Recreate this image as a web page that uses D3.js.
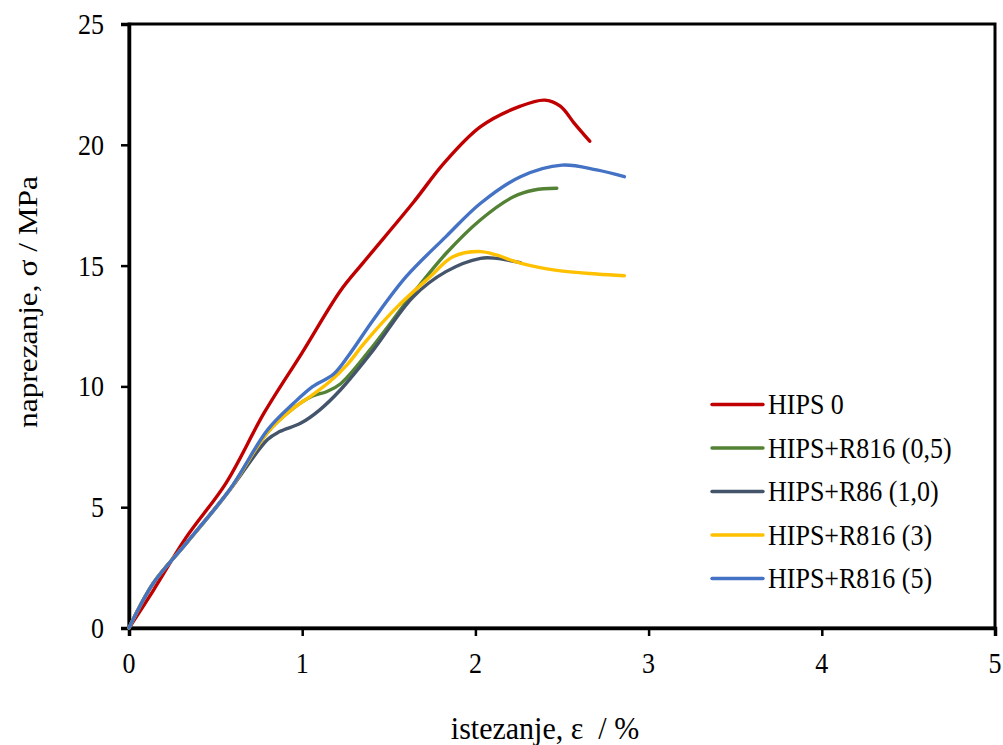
<!DOCTYPE html>
<html><head><meta charset="utf-8">
<script src="https://cdn.jsdelivr.net/npm/d3@7"></script>
<style>body{margin:0;background:#fff}svg{display:block}svg text{font-family:"Liberation Serif","Times New Roman",Tinos,"DejaVu Serif",serif;fill:#000}</style>
</head><body><svg id="c" width="1003" height="745"></svg>
<script>
const seriesNames = ["HIPS 0","HIPS+R816 (0,5)","HIPS+R86 (1,0)","HIPS+R816 (3)","HIPS+R816 (5)"];
const seriesColors = ["#C00000","#548235","#44546A","#FFC000","#4472C4"];
const hips0_x = [0,0.14,0.33,0.56,0.78,1.0,1.22,1.35,1.64,1.82,2.03,2.26,2.40,2.49,2.57,2.66];
const hips0_y = [0,1.55,3.75,6.0,8.9,11.4,13.95,15.1,17.6,19.25,20.75,21.6,21.85,21.6,20.9,20.15];
const r05_x = [0,0.14,0.33,0.58,0.8,0.95,1.06,1.14,1.22,1.39,1.64,1.83,2.03,2.22,2.34,2.47];
const r05_y = [0,1.85,3.5,5.7,8.1,9.1,9.6,9.78,10.1,11.5,13.85,15.5,16.9,17.85,18.13,18.2];
const r10_x = [0,0.14,0.33,0.58,0.8,0.87,0.99,1.1,1.22,1.41,1.64,1.83,2.03,2.12,2.26];
const r10_y = [0,1.85,3.5,5.7,7.8,8.13,8.47,9.02,9.85,11.5,13.7,14.75,15.3,15.3,15.12];
const r3_x = [0,0.14,0.33,0.58,0.8,0.95,1.05,1.16,1.26,1.36,1.55,1.74,1.87,2.03,2.12,2.26,2.47,2.7,2.86];
const r3_y = [0,1.85,3.5,5.7,8.1,9.1,9.6,10.2,10.9,11.8,13.3,14.55,15.37,15.58,15.44,15.1,14.8,14.65,14.58];
const r5_x = [0,0.14,0.33,0.58,0.8,0.95,1.06,1.18,1.27,1.41,1.6,1.83,2.03,2.26,2.5,2.7,2.86];
const r5_y = [0,1.85,3.5,5.71,8.2,9.3,9.99,10.5,11.3,12.75,14.54,16.2,17.58,18.68,19.16,18.96,18.68];
const xTicks = [0,1,2,3,4,5];
const yTicks = [0,5,10,15,20,25];

const allX = [hips0_x,r05_x,r10_x,r3_x,r5_x];
const allY = [hips0_y,r05_y,r10_y,r3_y,r5_y];
const SY = 1.12; // vertical stretch of the reference's text

const svg = d3.select("#c");
const L=129,R=995,T=24,B=628;
const x = d3.scaleLinear().domain([0,5]).range([L,R]);
const y = d3.scaleLinear().domain([0,25]).range([B,T]);

svg.append("rect").attr("x",L).attr("y",T).attr("width",R-L).attr("height",B-T)
  .attr("fill","none").attr("stroke","#000").attr("stroke-width",3);

const xAxis = svg.append("g").attr("transform",`translate(0,${B})`)
  .call(d3.axisBottom(x).tickValues(xTicks).tickFormat("").tickSize(8));
const yAxis = svg.append("g").attr("transform",`translate(${L},0)`)
  .call(d3.axisLeft(y).tickValues(yTicks).tickFormat("").tickSize(8));
[xAxis,yAxis].forEach(a=>{
  a.select(".domain").attr("stroke","#000").attr("stroke-width",3.5);
  a.selectAll(".tick line").attr("stroke","#000").attr("stroke-width",2.5);
});
// tick labels
svg.append("g").selectAll("text").data(xTicks).join("text")
  .attr("transform",d=>`translate(${x(d)},663) scale(1,${SY})`)
  .attr("text-anchor","middle").attr("dy","0.34em").style("font-size","26px").text(d=>d);
svg.append("g").selectAll("text").data(yTicks).join("text")
  .attr("transform",d=>`translate(104,${y(d)}) scale(1,${SY})`)
  .attr("text-anchor","end").attr("dy","0.34em").style("font-size","26px").text(d=>d);

const line = d3.line().curve(d3.curveCatmullRom.alpha(0.5)).x(d=>x(d[0])).y(d=>y(d[1]));
seriesNames.forEach((n,i)=>{
  const pts = allX[i].map((v,j)=>[v,allY[i][j]]);
  svg.append("path").datum(pts).attr("d",line).attr("fill","none")
    .attr("stroke",seriesColors[i]).attr("stroke-width",3.4).attr("stroke-linecap","round").attr("stroke-linejoin","round");
});

seriesNames.forEach((n,i)=>{
  const yy = 404.5 + i*43.5;
  svg.append("line").attr("x1",712).attr("x2",763).attr("y1",yy).attr("y2",yy)
    .attr("stroke",seriesColors[i]).attr("stroke-width",3.4).attr("stroke-linecap","round");
  svg.append("text").attr("transform",`translate(768,${yy}) scale(1,${SY})`).attr("dy","0.33em")
    .style("font-size","26px").text(n);
});

svg.append("text").attr("transform",`translate(545,739) scale(1,1.08)`).attr("text-anchor","middle")
  .style("font-size","30px").style("white-space","pre").attr("xml:space","preserve").text("istezanje, ε  / %");
svg.append("text").attr("transform",`translate(37,302) rotate(-90) scale(${SY},1)`).attr("text-anchor","middle")
  .style("font-size","28px").text("naprezanje, σ / MPa");
</script></body></html>
